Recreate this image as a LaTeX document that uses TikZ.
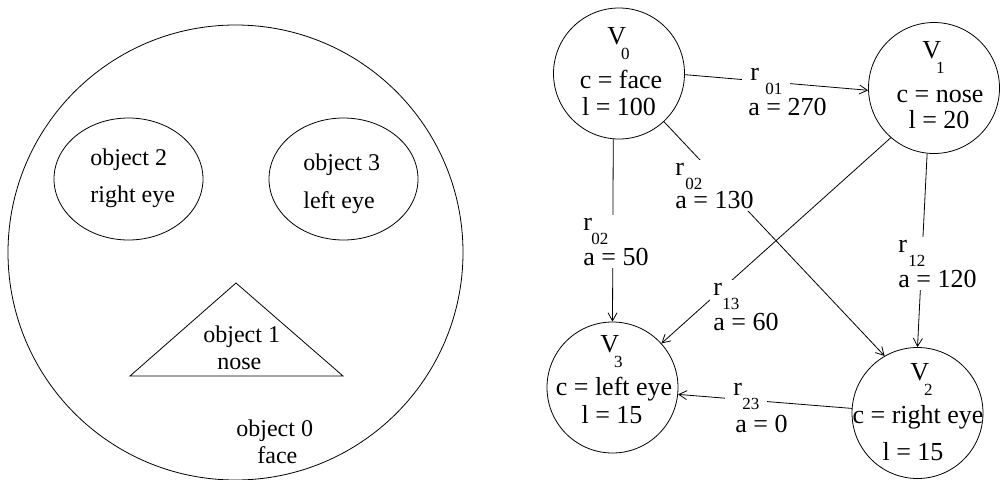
\documentclass[tikz,border=0pt]{standalone}
\usepackage{fontspec}
\setmainfont{Liberation Serif}
\usetikzlibrary{arrows.meta}
\newcommand\rsub[2][0.5]{r\hspace{#1pt}\raisebox{-14pt}{\fontsize{17}{17}\selectfont #2}}
\newcommand\Vsub[1]{V\hspace{-5pt}\raisebox{-15pt}{\fontsize{17}{17}\selectfont #1}}
\newcommand\elab[4]{\vtop{\baselineskip=#4pt\hbox{\rsub[#1]{#2}}\hbox{a = #3}}}
\begin{document}
\begin{tikzpicture}[x=1pt,y=-1pt,line width=0.8pt,
  >={Straight Barb[length=8pt,width=9pt]},
  vert/.style={circle,draw,minimum size=131pt,inner sep=0pt},
  big/.style={font=\fontsize{26}{26}\selectfont},
  ctxt/.style={big,inner sep=0pt,anchor=base},
  wtxt/.style={big,inner sep=0pt,anchor=base west},
  elabel/.style={big,inner sep=3pt,anchor=base west,fill=white},
  rlabel/.style={big,inner xsep=8pt,inner ysep=3pt,anchor=base west,fill=white},
  ftxt/.style={font=\fontsize{24}{24}\selectfont,inner sep=0pt,anchor=base west}]
\useasboundingbox (0,0) rectangle (1000,479);

% ---------- left: the face ----------
\coordinate (fc) at (235.5,252.5);
\draw (fc) circle[radius=227.5pt];
\coordinate (eR) at (128.5,179);
\coordinate (eL) at (343.5,179);
\draw (eR) ellipse[x radius=74.5pt, y radius=61pt];
\draw (eL) ellipse[x radius=74.5pt, y radius=61pt];
\coordinate (nA) at (130,376);
\coordinate (nB) at (236,283);
\coordinate (nC) at (343,376);
\draw (nA) -- (nB) -- (nC) -- cycle;
\node[ftxt] (o2a) at (90,165) {object 2};
\node[ftxt] (o2b) at (90,202) {right eye};
\node[ftxt] (o3a) at (303,170) {object 3};
\node[ftxt] (o3b) at (303,208) {left eye};
\node[ftxt] (o1a) at (203,342) {object 1};
\node[ftxt] (o1b) at (217,369) {nose};
\node[ftxt] (o0a) at (236,436) {object 0};
\node[ftxt] (o0b) at (257,463) {face};

% ---------- right: the graph ----------
\node[vert] (V0) at (619,73.5) {};
\node[vert] (V1) at (934,88) {};
\node[vert] (V2) at (917.5,413) {};
\node[vert] (V3) at (612.5,387.5) {};

\node[wtxt] (V0n) at (607,44) {\Vsub{0}};
\node[ctxt] (V0c) at (621,88) {c = face};
\node[ctxt] (V0l) at (619,115) {l = 100};

\node[wtxt] (V1n) at (922,58) {\Vsub{1}};
\node[ctxt] (V1c) at (940,102) {c = nose};
\node[ctxt] (V1l) at (939,128) {l = 20};

\node[wtxt] (V3n) at (600,352) {\Vsub{3}};
\node[ctxt] (V3c) at (614,395) {c = left eye};
\node[ctxt] (V3l) at (612,423) {l = 15};

\node[wtxt] (V2n) at (910,380) {\Vsub{2}};
\node[ctxt] (V2c) at (918,423) {c = right eye};
\node[ctxt] (V2l) at (913,460) {l = 15};

% edges
\draw[->] (V0.-1) -- (V1.182);
\draw[->] (V0.-47) -- (V2.120);
\draw[->] (V0.265) -- (V3.90);
\draw[->] (V1.264) -- (V2.90);
\draw[->] (V1.229) -- (V3.42);
\draw[->] (V2.176) -- (V3.-6);

% edge labels
\node[rlabel] (L01) at (742,80) {\rsub[6.3]{01}};
\node[wtxt] (A01) at (748,115) {a = 270};
\node[elabel] (L02d) at (672,175) {\elab{1.3}{02}{130}{33}};
\node[elabel] (L02v) at (580,230) {\elab{-0.7}{02}{50}{35}};
\node[elabel] (L12) at (895,252) {\elab{1.3}{12}{120}{35}};
\node[elabel] (L13) at (710,295) {\elab{0.3}{13}{60}{35}};
\node[rlabel] (L23) at (725,395) {\rsub[0.3]{23}};
\node[wtxt] (A23) at (735,432) {a = 0};
\end{tikzpicture}
\end{document}
